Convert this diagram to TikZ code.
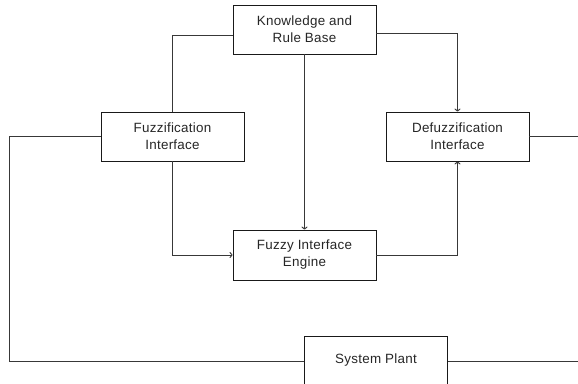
\documentclass[tikz,border=0pt]{standalone}
\usepackage{fontspec}
\setmainfont{Liberation Sans}[LetterSpace=2]
\usetikzlibrary{arrows.meta,calc}
\begin{document}
\begin{tikzpicture}[x=1pt,y=-1pt,
  blk/.style={draw=black!90,line width=0.9pt,minimum width=143pt,minimum height=49pt,
    inner sep=0pt,align=center,font=\fontsize{13.4}{17}\selectfont,text=black!85},
  conn/.style={draw=black!78,line width=0.95pt},
  arr/.style={conn,-{To[length=3pt,width=6pt]}}]
\useasboundingbox (0,0) rectangle (578,383);
\node[blk] (kb)  at (304.5,29.5)  {Knowledge and\\Rule Base};
\node[blk] (fz)  at (172.5,136.5) {Fuzzification\\Interface};
\node[blk] (dfz) at (457.5,136.5) {Defuzzification\\Interface};
\node[blk,minimum height=50pt] (eng) at (304.5,255) {Fuzzy Interface\\Engine};
\node[blk] (sp)  at (376,360.5) {System Plant};
\coordinate (fl) at (9,136.5);
\coordinate (fb) at (9,361);
\coordinate (dr) at (578,136.5);
\coordinate (sr) at (578,361);
\coordinate (kl) at ($(kb.west)+(0,5.5)$);
\coordinate (kr) at ($(kb.east)+(0,3.5)$);
\draw[conn] (kl) -| (fz.north);
\draw[arr] (kr) -| (dfz.north);
\draw[arr] (kb.south) -- (eng.north);
\draw[arr] (fz.south) |- (eng.west);
\draw[arr] (eng.east) -| (dfz.south);
\draw[conn] (fz.west) -- (fl) -- (fb) -- (fb -| sp.west);
\draw[conn] (dfz.east) -- (dr);
\draw[conn] (sp.east |- sr) -- (sr);
\end{tikzpicture}
\end{document}
